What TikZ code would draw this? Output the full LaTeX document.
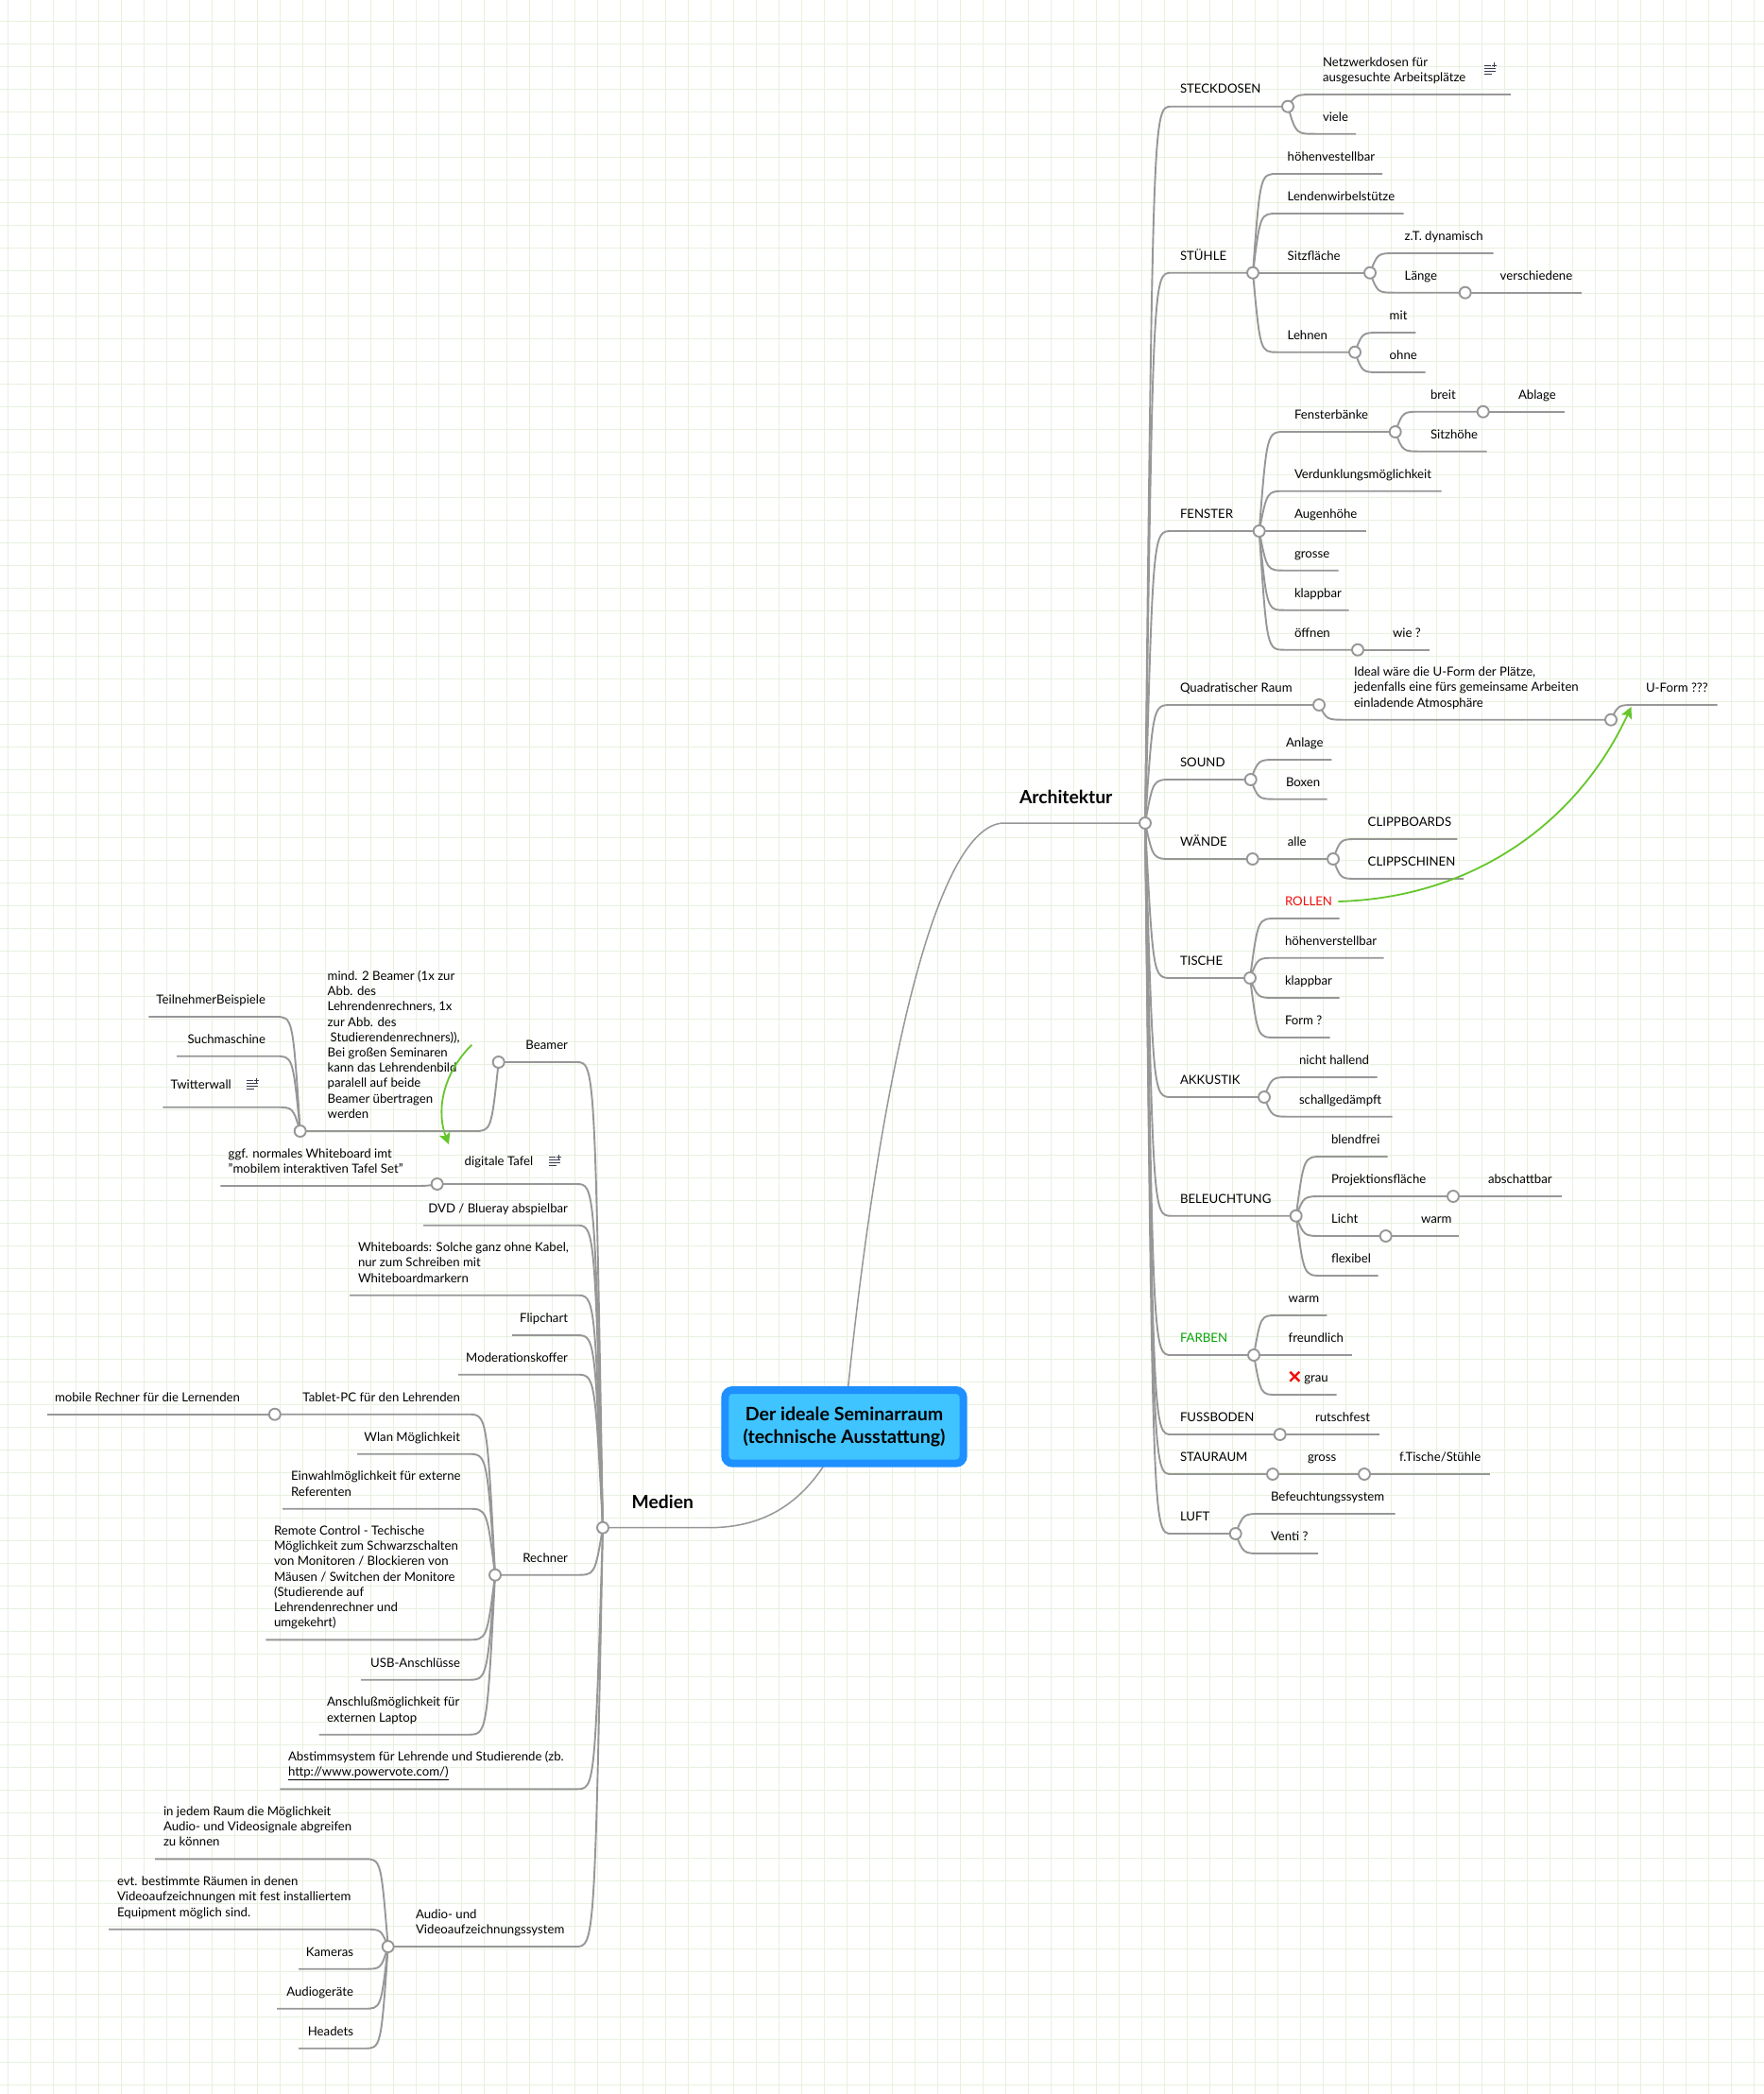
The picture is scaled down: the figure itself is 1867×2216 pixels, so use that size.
\documentclass[tikz,border=0pt]{standalone}
\usepackage{fontspec}
\setmainfont{Lato}
\usetikzlibrary{calc,arrows.meta}
\definecolor{gridc}{HTML}{E8F1DF}
\definecolor{linec}{HTML}{979797}
\definecolor{linkc}{HTML}{66C62C}
\definecolor{boxedge}{HTML}{1E90FF}
\definecolor{boxfill}{HTML}{40C4FF}
\definecolor{farbc}{HTML}{0AA30A}
\definecolor{rollc}{HTML}{F01010}
\definecolor{iconc}{HTML}{3A3A50}
\pgfdeclarelayer{paper}\pgfdeclarelayer{wires}
\pgfsetlayers{paper,wires,main}
\tikzset{
  wire/.style={draw=linec,line width=1.9pt,line join=round},
  mainwire/.style={draw=linec,line width=1.5pt},
  knot/.style={circle,draw=linec,fill=white,line width=1.9pt,minimum size=12pt,inner sep=0pt,outer sep=0pt},
  lbl/.style={inner sep=0pt,outer sep=0pt,align=left,font=\fontsize{13.2}{16.2}\selectfont,text=black},
  mainlbl/.style={inner sep=0pt,outer sep=0pt,font=\fontsize{19.3}{22}\bfseries\selectfont,text=black},
  linkarrow/.style={draw=linkc,line width=1.8pt,-{Stealth[length=12pt,width=12pt,inset=2.5pt]}},
}
% name, parent, line-start x, line y, line-end x, anchor, text x, text
\newcommand\branchto[9][]{%
  \coordinate (#2-s) at (#4,#5);
  \coordinate (#2-e) at (#6,#5);
  \node[lbl,anchor=#7,#1] (#2) at (#8,#5-13.7) {#9};
  \coordinate (#2-a) at ($(#3.center)!0.3!(#3.center -| #2-s)$);
  \begin{pgfonlayer}{wires}
    \draw[wire] (#3.center) .. controls (#2-a |- #2-s) and (#2-a |- #2-s) .. (#2-s) -- (#2-e);
  \end{pgfonlayer}}
\newcommand\knotat[3]{\node[knot] (#1) at (#2,#3) {};}
\newcommand\noteicon[2]{%
  \draw[iconc,line width=.9pt] (#1-6.5,#2-4) -- ++(7.5,0) (#1-6.5,#2-1) -- ++(12,0) (#1-6.5,#2+2) -- ++(12,0) (#1-6.5,#2+5) -- ++(8,0)
    (#1+4,#2-6.5) -- ++(0,5) (#1+1.5,#2-4) -- ++(5,0);}
\begin{document}
\begin{tikzpicture}[x=1pt,y=-1pt]
\useasboundingbox (0,0) rectangle (1867,2216);
\begin{pgfonlayer}{paper}
  \fill[white] (0,0) rectangle (1867,2216);
  \foreach \k in {0,...,77} {\draw[gridc,line width=1pt] ({8.3+24*\k},0) -- ({8.3+24*\k},2216);}
  \foreach \k in {-1,...,92} {\draw[gridc,line width=1pt] (0,{22.5+24*\k}) -- (1867,{22.5+24*\k});}
\end{pgfonlayer}

% centre
\node[draw=boxedge,fill=boxfill,line width=8pt,rounded corners=8pt,minimum width=252.4pt,minimum height=77.7pt,
      inner sep=0pt,align=center,font=\fontsize{19.6}{24}\bfseries\selectfont] (root) at (893.5,1509.85)
      {Der ideale Seminarraum\\(technische Ausstattung)};

% ===== Architektur =====
\knotat{kA}{1212}{871}
\coordinate (archS) at (1063,871);
\node[mainlbl,anchor=base west] (arch) at (1079,850.7) {Architektur};
\begin{pgfonlayer}{wires}
  \draw[mainwire] (root.center) .. controls (925,1180) and (985,871) .. (archS) -- (kA.center);
\end{pgfonlayer}

\branchto{steck}{kA}{1240}{112.7}{1363}{base west}{1249}{STECKDOSEN}
\knotat{k1}{1363}{112.7}
\branchto{netz}{k1}{1392}{100}{1599}{base west}{1400}{Netzwerkdosen für\\ausgesuchte Arbeitsplätze}
\noteicon{1577}{73}
\branchto{viele}{k1}{1392}{141.7}{1435}{base west}{1400}{viele}

\branchto{stuehle}{kA}{1240}{288.7}{1326}{base west}{1249}{STÜHLE}
\knotat{k2}{1326}{288.7}
\branchto{hoehen}{k2}{1352}{184}{1463}{base west}{1362.7}{höhenvestellbar}
\branchto{lenden}{k2}{1352}{226}{1485.7}{base west}{1362.7}{Lendenwirbelstütze}
\branchto{sitz}{k2}{1352}{288.7}{1450}{base west}{1362.7}{Sitzfläche}
\knotat{k21}{1450}{288.7}
\branchto{dyn}{k21}{1476.7}{268}{1580.7}{base west}{1486.7}{z.T. dynamisch}
\branchto{laenge}{k21}{1476.7}{309.7}{1550.7}{base west}{1486.7}{Länge}
\knotat{k22}{1550.7}{309.7}
\branchto{versch}{k22}{1580}{309.7}{1673.7}{base west}{1587.7}{verschiedene}
\branchto{lehnen}{k2}{1352}{372.7}{1434}{base west}{1362.7}{Lehnen}
\knotat{k23}{1434}{372.7}
\branchto{mit}{k23}{1460}{352}{1498.3}{base west}{1470.7}{mit}
\branchto{ohne}{k23}{1460}{394}{1508.7}{base west}{1470.7}{ohne}

\branchto{fenster}{kA}{1240}{562}{1332.7}{base west}{1249}{FENSTER}
\knotat{k3}{1332.7}{562}
\branchto{fbank}{k3}{1360}{457}{1476.7}{base west}{1370}{Fensterbänke}
\knotat{k31}{1476.7}{457}
\branchto{breit}{k31}{1503.3}{435.7}{1569.7}{base west}{1514}{breit}
\knotat{k32}{1569.7}{435.7}
\branchto{ablage}{k32}{1600}{435.7}{1655.7}{base west}{1607}{Ablage}
\branchto{sitzh}{k31}{1503.3}{477.7}{1573.7}{base west}{1514}{Sitzhöhe}
\branchto{verd}{k3}{1360}{519.7}{1525.7}{base west}{1370}{Verdunklungsmöglichkeit}
\branchto{augen}{k3}{1360}{562}{1445.7}{base west}{1370}{Augenhöhe}
\branchto{grosse}{k3}{1360}{603.7}{1416.7}{base west}{1370}{grosse}
\branchto{klapp}{k3}{1360}{645.7}{1427.7}{base west}{1370}{klappbar}
\branchto{oeff}{k3}{1360}{687.7}{1437}{base west}{1370}{öffnen}
\knotat{k33}{1437}{687.7}
\branchto{wie}{k33}{1465}{687.7}{1512.7}{base west}{1474}{wie ?}

\branchto{quad}{kA}{1240}{746}{1396}{base west}{1249}{Quadratischer Raum}
\knotat{k4}{1396}{746}
\branchto{ideal}{k4}{1423.7}{761.7}{1705}{base west}{1433}{Ideal wäre die U-Form der Plätze,\\jedenfalls eine fürs gemeinsame Arbeiten\\einladende Atmosphäre}
\knotat{k41}{1705}{761.7}
\branchto{uform}{k41}{1730.6}{746}{1817.5}{base west}{1742}{U-Form ???}

\branchto{sound}{kA}{1240}{825}{1323.7}{base west}{1249}{SOUND}
\knotat{k5}{1323.7}{825}
\branchto{anlage}{k5}{1351}{804}{1409.4}{base west}{1361}{Anlage}
\branchto{boxen}{k5}{1351}{845.7}{1404.5}{base west}{1361}{Boxen}

\branchto{waende}{kA}{1240}{909}{1325.7}{base west}{1249}{WÄNDE}
\knotat{k6}{1325.7}{909}
\branchto{alle}{k6}{1355}{909}{1411}{base west}{1362.9}{alle}
\knotat{k61}{1411}{909}
\branchto{clipb}{k61}{1436.7}{888}{1542.4}{base west}{1447.7}{CLIPPBOARDS}
\branchto{clips}{k61}{1436.7}{930}{1549}{base west}{1447.7}{CLIPPSCHINEN}

\branchto{tische}{kA}{1240}{1035}{1323}{base west}{1249}{TISCHE}
\knotat{k7}{1323}{1035}
\branchto[text=rollc]{rollen}{k7}{1351}{972}{1417.5}{base west}{1360}{ROLLEN}
\branchto{hoehen2}{k7}{1350}{1013.7}{1464.7}{base west}{1360}{höhenverstellbar}
\branchto{klapp2}{k7}{1350}{1056}{1417.7}{base west}{1360}{klappbar}
\branchto{formq}{k7}{1350}{1098}{1407.7}{base west}{1360}{Form ?}

\branchto{akk}{kA}{1240}{1161}{1338}{base west}{1249}{AKKUSTIK}
\knotat{k8}{1338}{1161}
\branchto{nicht}{k8}{1365}{1140}{1457.7}{base west}{1375}{nicht hallend}
\branchto{schall}{k8}{1365}{1181.7}{1473.7}{base west}{1375}{schallgedämpft}

\branchto{bel}{kA}{1240}{1286.7}{1371.7}{base west}{1249}{BELEUCHTUNG}
\knotat{k9}{1371.7}{1286.7}
\branchto{blend}{k9}{1399.3}{1224}{1468.7}{base west}{1409}{blendfrei}
\branchto{proj}{k9}{1399.3}{1266}{1538}{base west}{1409}{Projektionsfläche}
\knotat{k91}{1538}{1266}
\branchto{abschatt}{k91}{1565}{1266}{1652.7}{base west}{1575}{abschattbar}
\branchto{licht}{k9}{1399.3}{1308}{1466.7}{base west}{1409}{Licht}
\knotat{k92}{1466.7}{1308}
\branchto{warm1}{k92}{1495}{1308}{1544.3}{base west}{1504}{warm}
\branchto{flex}{k9}{1399.3}{1350}{1458.7}{base west}{1409}{flexibel}

\branchto[text=farbc]{farben}{kA}{1240}{1434}{1327}{base west}{1249}{FARBEN}
\knotat{k10}{1327}{1434}
\branchto{warm2}{k10}{1351.7}{1392}{1404.3}{base west}{1363.7}{warm}
\branchto{freund}{k10}{1351.7}{1434}{1430.7}{base west}{1363.7}{freundlich}
\branchto{grau}{k10}{1351.7}{1476}{1414.7}{base west}{1380.3}{grau}
\draw[rollc,line width=2.4pt] (1365.3,1451.7) -- (1375.3,1461.7) (1375.3,1451.7) -- (1365.3,1461.7);

\branchto{fuss}{kA}{1240}{1518}{1354.7}{base west}{1249}{FUSSBODEN}
\knotat{k11}{1354.7}{1518}
\branchto{rutsch}{k11}{1384}{1518}{1459.7}{base west}{1392}{rutschfest}

\branchto{stau}{kA}{1240}{1560}{1347}{base west}{1249}{STAURAUM}
\knotat{k12}{1347}{1560}
\branchto{gross}{k12}{1376}{1560}{1444}{base west}{1384}{gross}
\knotat{k121}{1444}{1560}
\branchto{fti}{k121}{1473}{1560}{1576.7}{base west}{1481}{f.Tische/Stühle}

\branchto{luft}{kA}{1240}{1623}{1307.7}{base west}{1249}{LUFT}
\knotat{k13}{1307.7}{1623}
\branchto{befeucht}{k13}{1335}{1602}{1476.7}{base west}{1345}{Befeuchtungssystem}
\branchto{venti}{k13}{1335}{1644}{1395}{base west}{1345}{Venti ?}

% ===== Medien =====
\knotat{kM}{638}{1616.7}
\coordinate (medS) at (750,1616.7);
\node[mainlbl,anchor=base east] (medien) at (734,1596.7) {Medien};
\begin{pgfonlayer}{wires}
  \draw[mainwire] (root.center) .. controls (860,1590) and (810,1616.7) .. (medS) -- (kM.center);
\end{pgfonlayer}

\branchto{beamer}{kM}{610}{1124}{527.7}{base east}{601}{Beamer}
\knotat{b1}{527.7}{1124}
\branchto{mind}{b1}{501.7}{1197}{317.7}{base west}{346.7}{mind. 2 Beamer (1x zur\\Abb. des\\Lehrendenrechners, 1x\\zur Abb. des\\\hspace*{3pt}Studierendenrechners)),\\Bei großen Seminaren\\kann das Lehrendenbild\\paralell auf beide\\Beamer übertragen\\werden}
\knotat{b2}{317.7}{1197}
\branchto{teil}{b2}{291.7}{1076}{157.3}{base east}{281}{TeilnehmerBeispiele}
\branchto{such}{b2}{291.7}{1117.7}{187}{base east}{281}{Suchmaschine}
\branchto[yshift=6pt]{twit}{b2}{291.7}{1171.7}{172.3}{base west}{180.7}{Twitterwall}
\noteicon{267}{1147}

\branchto[yshift=6pt]{digi}{kM}{610}{1253}{462.7}{base west}{491.7}{digitale Tafel}
\noteicon{587.3}{1228}
\knotat{d1}{462.7}{1253}
\branchto{ggf}{d1}{430}{1255}{233.3}{base west}{241.7}{ggf. normales Whiteboard imt\\"mobilem interaktiven Tafel Set"}

\branchto{dvd}{kM}{610}{1296.7}{448}{base east}{601}{DVD / Blueray abspielbar}
\branchto{white}{kM}{610}{1370.7}{370}{base west}{379}{Whiteboards: Solche ganz ohne Kabel,\\nur zum Schreiben mit\\Whiteboardmarkern}
\branchto{flip}{kM}{610}{1413}{542}{base east}{601}{Flipchart}
\branchto{moder}{kM}{610}{1454.7}{485}{base east}{601}{Moderationskoffer}

\branchto{rechner}{kM}{610}{1666.7}{524}{base east}{601}{Rechner}
\knotat{r1}{524}{1666.7}
\branchto{tablet}{r1}{495}{1496.7}{290.8}{base east}{487}{Tablet-PC für den Lehrenden}
\knotat{r2}{290.8}{1496.7}
\branchto{mobile}{r2}{262}{1496.7}{50}{base west}{58}{mobile Rechner für die Lernenden}
\branchto{wlan}{r1}{495}{1538.7}{378}{base east}{487}{Wlan Möglichkeit}
\branchto{einw}{r1}{495}{1596.7}{299}{base west}{308}{Einwahlmöglichkeit für externe\\Referenten}
\branchto{remote}{r1}{495}{1735.3}{281.4}{base west}{290}{Remote Control - Techische\\Möglichkeit zum Schwarzschalten\\von Monitoren / Blockieren von\\Mäusen / Switchen der Monitore\\(Studierende auf\\Lehrendenrechner und\\umgekehrt)}
\branchto{usb}{r1}{495}{1777.7}{382}{base east}{487}{USB-Anschlüsse}
\branchto{ansch}{r1}{495}{1835.7}{337.5}{base west}{346}{Anschlußmöglichkeit für\\externen Laptop}

\branchto{abst}{kM}{610}{1893.3}{296.4}{base west}{305}{Abstimmsystem für Lehrende und Studierende (zb.\\\underline{http://www.powervote.com/)}}

\branchto{audio}{kM}{609}{2060}{410.7}{base west}{440}{Audio- und\\Videoaufzeichnungssystem}
\knotat{a1}{410.7}{2060}
\branchto{jedem}{a1}{385.7}{1967.3}{164}{base west}{173}{in jedem Raum die Möglichkeit\\Audio- und Videosignale abgreifen\\zu können}
\branchto{evt}{a1}{385.7}{2041.7}{115}{base west}{124}{evt. bestimmte Räumen in denen\\Videoaufzeichnungen mit fest installiertem\\Equipment möglich sind.}
\branchto{kam}{a1}{385.7}{2083.7}{316}{base east}{374}{Kameras}
\branchto{audg}{a1}{385.7}{2125.7}{293}{base east}{374}{Audiogeräte}
\branchto{head}{a1}{385.7}{2167.7}{316}{base east}{374}{Headets}

% ===== green relations =====
\coordinate (rollenEnd) at (1416.3,954);
\coordinate (uTip) at (1726.5,748);
\draw[linkarrow] (rollenEnd) .. controls (1560,950) and (1670,870) .. (uTip);
\coordinate (mindEnd) at (499.3,1105.7);
\coordinate (digiTip) at (475,1211);
\draw[linkarrow] (mindEnd) .. controls (465,1140) and (463,1180) .. (digiTip);
\end{tikzpicture}
\end{document}
